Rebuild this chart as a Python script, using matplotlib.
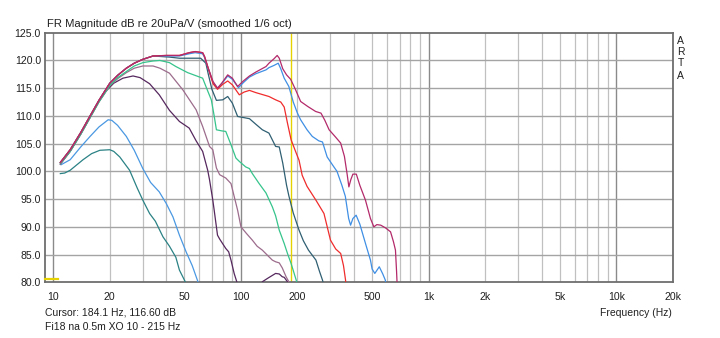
import matplotlib
matplotlib.use("Agg")
import matplotlib.pyplot as plt
import numpy as np

# ---------------- data ----------------
# shared low-frequency rise of the upper group of curves
rise_f = [10.9, 12.3, 14.0, 15.7, 17.5, 20.0, 22.0, 24.5, 27.0, 30.0, 34.0]
rise_db = [101.6, 103.9, 107.0, 110.0, 112.8, 115.9, 117.3, 118.6, 119.5, 120.2, 120.8]

magenta_f = [40, 47, 53, 57, 62.5, 64, 66.5, 71, 75, 79, 85, 90, 96, 103, 111, 120, 136, 141,
             150, 156, 160, 167, 175, 184, 195, 208, 227, 250, 267, 280, 295, 319, 340, 356,
             368, 376, 385, 395, 412, 430, 461, 490, 511, 530, 556, 590, 627, 650, 666, 675, 685]
magenta_db = [120.9, 120.9, 121.4, 121.6, 121.4, 120.7, 118.9, 116.2, 115.0, 115.9, 117.4, 116.8,
              115.3, 116.3, 117.2, 117.9, 118.9, 119.5, 120.3, 120.9, 120.4, 118.5, 117.4, 116.6,
              114.8, 112.6, 111.7, 110.8, 110.5, 109.2, 107.5, 106.2, 105.1, 102.7, 99.5, 97.2,
              98.5, 99.5, 99.5, 97.5, 94.8, 91.5, 90.0, 90.4, 90.3, 89.8, 89.1, 87.3, 85.8, 82.0, 77.0]

red_f = [40, 47, 53, 57, 62.5, 64, 66.5, 71, 75, 80, 85, 90, 98, 104, 111, 120, 141, 153, 163,
         170, 177, 185, 197, 204, 212, 225, 251, 277, 300, 320, 340, 352, 361, 368]
red_db = [120.9, 120.9, 121.4, 121.6, 121.4, 120.7, 118.9, 115.8, 114.8, 115.7, 116.3, 115.6,
          113.8, 114.3, 114.6, 114.2, 113.5, 112.9, 112.5, 111.6, 108.7, 105.7, 103.3, 102.0,
          99.3, 97.3, 94.8, 92.4, 87.6, 86.0, 85.2, 83.0, 80.4, 77.0]

blue_f = [40, 47, 53, 57, 62.5, 64, 66.5, 71, 75, 79, 85, 90, 97, 103, 111, 120, 136, 141, 150,
          158, 163, 170, 180, 190, 200, 208, 225, 240, 260, 272, 288, 310, 325, 345, 360, 375,
          384, 395, 411, 430, 461, 490, 500, 517, 546, 570, 588, 600]
blue_db = [120.8, 120.8, 121.2, 121.4, 121.2, 120.5, 118.8, 116.0, 115.0, 115.8, 117.2, 116.6,
           115.1, 116.0, 117.0, 117.6, 118.3, 118.7, 119.1, 119.5, 118.5, 116.8, 115.3, 112.5,
           110.5, 109.3, 107.5, 106.3, 105.5, 105.3, 102.6, 101.0, 100.0, 97.5, 95.5, 91.5,
           90.3, 91.5, 92.1, 90.5, 87.0, 84.0, 82.4, 81.6, 82.8, 81.5, 80.4, 78.5]

slate_f = [41.6, 47, 53, 61, 65, 67, 70, 74, 80, 85, 90, 96, 111, 120, 130, 141, 153, 160, 167,
           175, 180, 190, 204, 215, 229, 251, 262, 272, 282]
slate_db = [120.6, 120.4, 120.4, 120.4, 119.5, 117.5, 114.8, 112.8, 112.9, 113.5, 112.3, 109.9,
            109.5, 108.5, 107.5, 106.9, 104.5, 104.4, 101.5, 97.5, 95.6, 92.5, 89.4, 87.5, 85.8,
            84.0, 82.0, 80.4, 78.5]

green_rise_db = [101.4, 103.6, 106.7, 109.7, 112.5, 115.5, 116.9, 118.0, 119.0, 119.6, 119.9]
green_f = [37, 41.6, 45, 52, 62.5, 66.5, 69.5, 72, 74, 79, 83, 88.5, 94, 98, 106, 111, 115, 125,
           136, 147, 153, 160, 170, 177, 185, 197, 205]
green_db = [120.0, 119.6, 118.9, 117.8, 116.8, 114.5, 112.9, 110.0, 107.5, 107.3, 107.2, 104.8,
            102.4, 101.8, 100.8, 100.5, 99.6, 97.8, 96.1, 93.6, 92.0, 89.4, 87.0, 85.2, 83.4,
            80.4, 78.5]

mauve_f = [10.9, 12.3, 14.0, 15.7, 17.5, 20.0, 22.0, 24.5, 27, 30, 34, 37, 41.6, 49, 57.7, 62.5,
           68, 70.8, 74, 77, 83, 88.5, 92, 96, 100, 107, 115, 122, 130, 141, 147, 153, 160, 166,
           174, 180, 188]
mauve_db = [101.3, 103.6, 106.7, 109.7, 112.5, 115.4, 116.7, 117.8, 118.6, 119.0, 119.0, 118.6,
            117.7, 114.7, 111.1, 108.1, 104.5, 103.9, 100.6, 99.4, 98.8, 97.8, 95.5, 93.0, 90.0,
            88.8, 87.6, 86.5, 85.8, 84.6, 84.0, 83.7, 83.5, 82.6, 81.0, 80.1, 78.5]

purple_f = [10.9, 12.3, 14.0, 15.7, 17.5, 19.0, 21.0, 23.5, 26.6, 29, 32.6, 36.7, 41.6, 47, 53,
            57.7, 62.5, 66.5, 68, 70.8, 72, 75, 77, 83, 86, 88.5, 92, 95, 100, 115, 125, 130,
            140, 153, 160, 166, 170, 177, 185]
purple_db = [101.3, 103.6, 106.7, 109.7, 112.6, 114.4, 115.9, 116.8, 117.2, 116.9, 115.8, 113.8,
             111.0, 109.0, 107.8, 105.5, 103.6, 100.2, 98.5, 94.8, 93.0, 88.5, 87.8, 86.1, 85.5,
             84.0, 81.6, 80.1, 77.5, 77.0, 78.5, 80.1, 80.8, 81.6, 81.5, 81.0, 80.9, 80.1, 78.0]

lowblue_f = [11.0, 12.3, 14.0, 15.7, 17.5, 19.6, 20.5, 22, 24.5, 27, 30, 33, 36.7, 40, 43.4, 47,
             51, 55, 59, 63]
lowblue_db = [101.2, 102.1, 104.4, 106.3, 108.0, 109.3, 109.2, 108.3, 106.3, 103.8, 100.5, 98.0,
              96.3, 94.2, 91.8, 88.5, 85.5, 83.0, 80.1, 78.5]

teal_f = [10.9, 11.5, 12.3, 14.4, 16, 17.7, 20, 21, 22.6, 25.5, 28, 30, 32.6, 35, 38.4, 41.6, 45,
          47, 51, 53]
teal_db = [99.6, 99.7, 100.2, 102.1, 103.2, 103.8, 103.9, 103.6, 102.6, 100.2, 97.0, 94.8, 92.4,
           91.0, 88.2, 86.5, 84.5, 82.2, 79.8, 78.5]

cursor_freq = 184.1
marker_level = 80.6
marker_end = 10.6

y_ticks = [80, 85, 90, 95, 100, 105, 110, 115, 120, 125]
x_ticks = [10, 20, 50, 100, 200, 500, 1000, 2000, 5000, 10000, 20000]
x_ticklabels = ["10", "20", "50", "100", "200", "500", "1k", "2k", "5k", "10k", "20k"]
grid_freqs = [m * d for d in (10, 100, 1000, 10000) for m in range(1, 10)] + [20000]

# ---------------- figure ----------------
plt.rcParams['font.family'] = ['Liberation Sans', 'DejaVu Sans']
W, H = 720, 338
fig = plt.figure(figsize=(W / 100, H / 100), dpi=100)
L, R, T, B = 45, 672.7, 32.7, 282.3
ax = fig.add_axes([L / W, 1 - B / H, (R - L) / W, (B - T) / H])
ax.set_xscale('log')
ax.set_xlim(9.03, 20000)
ax.set_ylim(80, 125)

for f in grid_freqs:
    dec = abs(np.log10(f) - round(np.log10(f))) < 1e-9
    ax.axvline(f, color='#8a8a8a' if dec else '#c0c0c0', lw=1.0 if dec else 0.9, zorder=1)
for y in y_ticks[1:-1]:
    ax.axhline(y, color='#a4a4a4', lw=1.0, zorder=1)

ax.axvline(cursor_freq, color='#e6d200', lw=1.0, zorder=2)

lw = 0.9
ax.plot(teal_f, teal_db, color='#2b8285', lw=lw, zorder=3)
ax.plot(lowblue_f, lowblue_db, color='#4a98e2', lw=lw, zorder=3)
ax.plot(purple_f, purple_db, color='#56285e', lw=lw, zorder=3)
ax.plot(mauve_f, mauve_db, color='#9c6c8c', lw=lw, zorder=3)
ax.plot(rise_f + green_f, green_rise_db + green_db, color='#36c48c', lw=lw, zorder=3)
ax.plot(rise_f + slate_f, rise_db + slate_db, color='#2f5f72', lw=lw, zorder=3)
ax.plot(rise_f + blue_f, rise_db + blue_db, color='#3f8fe4', lw=lw, zorder=4)
ax.plot(rise_f + red_f, rise_db + red_db, color='#f02c2c', lw=lw, zorder=4)
ax.plot(rise_f + magenta_f, rise_db + magenta_db, color='#b32a6a', lw=lw, zorder=5)

ax.plot([9.03, marker_end], [marker_level, marker_level], color='#e6d200', lw=1.6, zorder=6,
        clip_on=False)

ax.set_yticks(y_ticks)
ax.set_yticklabels([f"{v:.1f}" for v in y_ticks], fontsize=7.6, color='#202020')
ax.set_xticks(x_ticks)
ax.set_xticklabels(x_ticklabels, fontsize=7.6, color='#202020')
ax.xaxis.set_minor_locator(matplotlib.ticker.NullLocator())
ax.tick_params(axis='both', length=0)
ax.tick_params(axis='y', pad=3)
ax.tick_params(axis='x', pad=7)
for s in ax.spines.values():
    s.set_color('#6e6e6e')
    s.set_linewidth(1.3)

def ftext(x, y, s, size=7.5, **kw):
    fig.text(x / W, 1 - y / H, s, fontsize=size, color='#202020', va='center', **kw)

ftext(46.5, 24.2, "FR Magnitude dB re 20uPa/V (smoothed 1/6 oct)", size=8.1, ha='left')
ftext(45, 312.3, "Cursor: 184.1 Hz, 116.60 dB", ha='left')
ftext(45, 327.3, "Fi18 na 0.5m XO 10 - 215 Hz", ha='left')
ftext(672, 312.7, "Frequency (Hz)", ha='right')
for letter, yy in zip("ARTA", [40.7, 52.0, 63.3, 76.0]):
    ftext(680.5, yy, letter, ha='center')

fig.savefig("out.png", dpi=100, facecolor='white')
